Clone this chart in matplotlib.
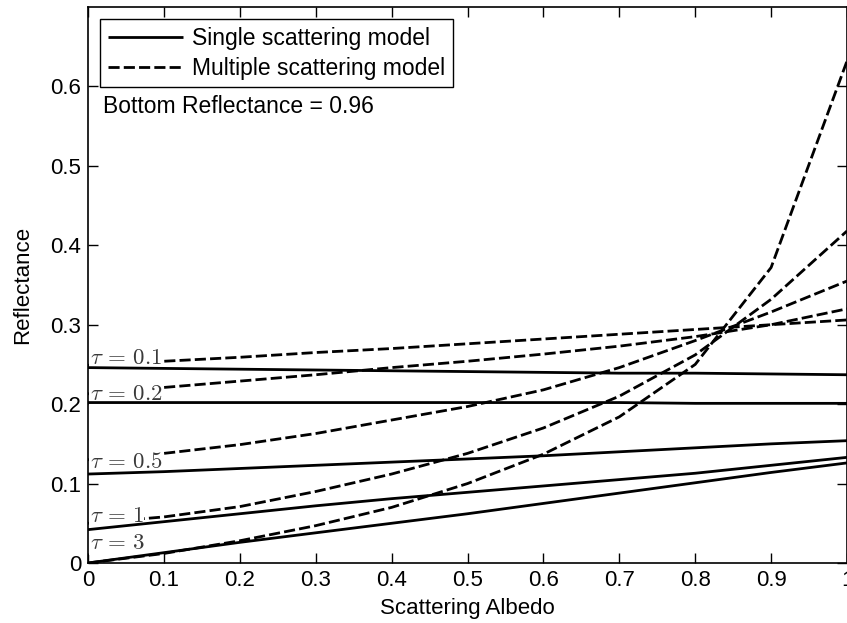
import matplotlib
matplotlib.use("Agg")
import matplotlib.pyplot as plt
import numpy as np

plt.rcParams['font.family'] = ['Liberation Sans', 'DejaVu Sans']
plt.rcParams['mathtext.fontset'] = 'cm'

albedo = [0.0, 0.1, 0.2, 0.3, 0.4, 0.5, 0.6, 0.7, 0.8, 0.9, 1.0]
tau_labels = ["0.1", "0.2", "0.5", "1", "3"]

single = {
    "0.1": [0.246, 0.245, 0.244, 0.243, 0.242, 0.241, 0.240, 0.239, 0.239, 0.238, 0.237],
    "0.2": [0.202, 0.202, 0.202, 0.202, 0.202, 0.202, 0.202, 0.202, 0.201, 0.201, 0.201],
    "0.5": [0.112, 0.115, 0.119, 0.123, 0.127, 0.131, 0.135, 0.140, 0.145, 0.150, 0.154],
    "1":   [0.042, 0.052, 0.062, 0.072, 0.081, 0.089, 0.097, 0.105, 0.113, 0.123, 0.133],
    "3":   [0.000, 0.013, 0.026, 0.038, 0.050, 0.062, 0.075, 0.088, 0.101, 0.114, 0.126],
}
multiple = {
    "0.1": [0.249, 0.254, 0.259, 0.265, 0.270, 0.276, 0.282, 0.288, 0.294, 0.300, 0.306],
    "0.2": [0.213, 0.221, 0.229, 0.237, 0.246, 0.254, 0.263, 0.273, 0.285, 0.300, 0.320],
    "0.5": [0.130, 0.138, 0.149, 0.163, 0.180, 0.197, 0.218, 0.246, 0.280, 0.316, 0.355],
    "1":   [0.050, 0.058, 0.071, 0.090, 0.112, 0.138, 0.170, 0.210, 0.262, 0.332, 0.418],
    "3":   [0.000, 0.012, 0.028, 0.047, 0.070, 0.100, 0.137, 0.184, 0.250, 0.372, 0.632],
}
label_y = {"0.1": 0.251, "0.2": 0.205, "0.5": 0.119, "1": 0.052, "3": 0.017}

xticks = [0, 0.1, 0.2, 0.3, 0.4, 0.5, 0.6, 0.7, 0.8, 0.9, 1]
xticklabels = ["0", "0.1", "0.2", "0.3", "0.4", "0.5", "0.6", "0.7", "0.8", "0.9", "1"]
yticks = [0, 0.1, 0.2, 0.3, 0.4, 0.5, 0.6]
yticklabels = ["0", "0.1", "0.2", "0.3", "0.4", "0.5", "0.6"]

W, H = 847, 623
fig = plt.figure(figsize=(W / 100, H / 100), dpi=100)
ax = fig.add_axes([88 / W, 60 / H, 759 / W, 556 / H])

lw = 2.0
for i, t in enumerate(tau_labels):
    ax.plot(albedo, single[t], color='black', lw=lw, solid_capstyle='butt', zorder=6,
            label='Single scattering model' if i == 0 else None)
for i, t in enumerate(tau_labels):
    ax.plot(albedo, multiple[t], color='black', lw=lw, dashes=(4, 1.5), zorder=2,
            label='Multiple scattering model' if i == 0 else None)

for t in tau_labels:
    ax.text(0.002, label_y[t], r'$\tau\,=\,%s$' % t, fontsize=16.5, color='#3a3a3a',
            va='baseline', ha='left', zorder=4,
            bbox=dict(facecolor='white', edgecolor='none', pad=0.3))

ax.set_xlim(0, 1)
ax.set_ylim(0, 0.7)
ax.set_xticks(xticks)
ax.set_xticklabels(xticklabels)
ax.set_yticks(yticks)
ax.set_yticklabels(yticklabels)
ax.tick_params(direction='in', length=7, width=1, top=True, right=True,
               labelsize=16, pad=5)
for s in ax.spines.values():
    s.set_linewidth(1.2)
    s.set_zorder(7)

ax.set_xlabel('Scattering Albedo', fontsize=16, labelpad=5)
ax.set_ylabel('Reflectance', fontsize=16, labelpad=12)

leg = ax.legend(loc='upper left', bbox_to_anchor=(0.016, 0.978), borderaxespad=0,
                fontsize=16.5, handlelength=3.3, handletextpad=0.4, fancybox=False,
                framealpha=1, edgecolor='black', borderpad=0.33, labelspacing=0.3)
leg.get_frame().set_linewidth(1.0)
leg.set_zorder(10)

ax.text(0.02, 0.809, 'Bottom Reflectance = 0.96', transform=ax.transAxes,
        fontsize=16.5, va='baseline', ha='left')

fig.savefig('out.png', dpi=100)
